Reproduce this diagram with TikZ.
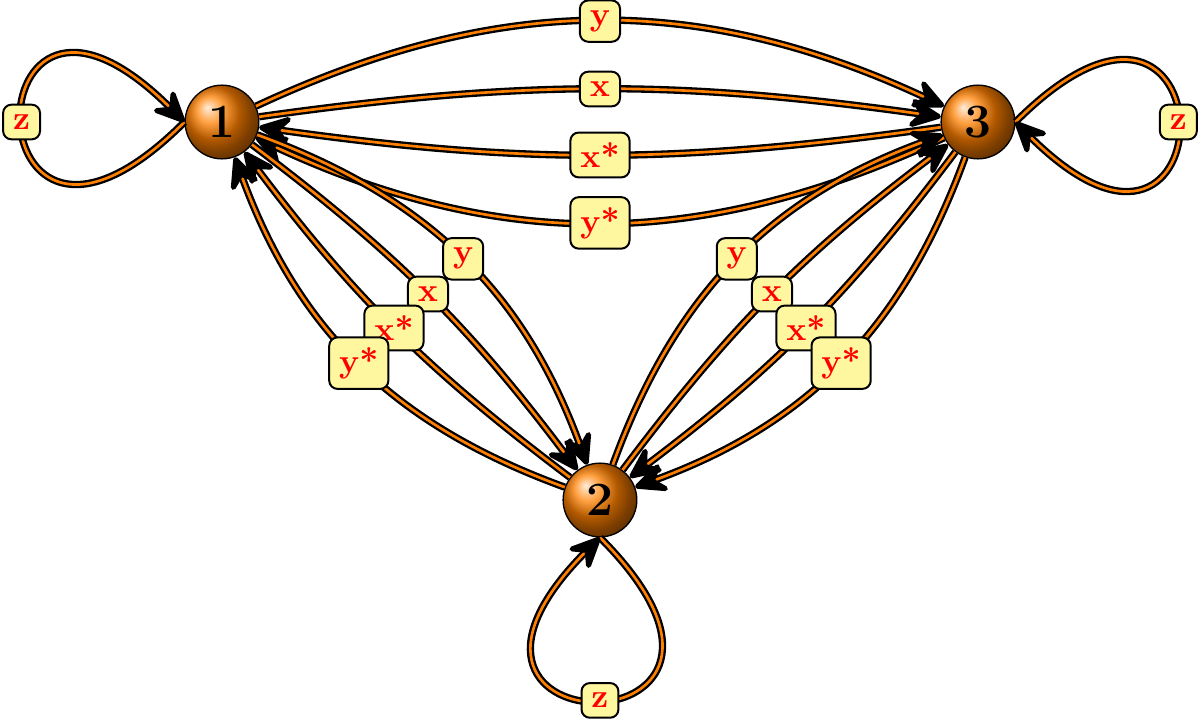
\documentclass[tikz,border=0pt]{standalone}
\usetikzlibrary{arrows.meta}
\definecolor{lblfill}{RGB}{255,246,160}
\begin{document}
\begin{tikzpicture}[
    ball/.style = {circle, draw, shading=ball, ball color=orange, minimum size=7.8mm, inner sep=0pt, font=\Large\bfseries},
    link/.style = {line width=0.7pt, double=orange, double distance=0.8pt, -{Stealth[length=12pt, width=11pt, inset=4.5pt, line width=1.5pt, round, black]}},
    lbl/.style = {draw, semithick, rounded corners=2.5pt, fill=lblfill, text=red, font=\bfseries, inner sep=3pt}]
    \useasboundingbox (-6.349,-2.392) rectangle (6.392,5.291);
    \node [ball] (n1) at (-4,4) {1};
    \node [ball] (n2) at (0,0) {2};
    \node [ball] (n3) at (4,4) {3};
    \foreach \a/\b in {1/3, 1/2, 2/3} {
      \draw [link] (n\a) to [bend left=25] node [lbl] {y} (n\b);
      \draw [link] (n\a) to [bend left=8] node [lbl] {x} (n\b);
      \draw [link] (n\b) to [bend left=8] node [lbl] {x*} (n\a);
      \draw [link] (n\b) to [bend left=25] node [lbl] {y*} (n\a);
    }
    % loops
    \draw [link] (n1.west) .. controls +(225:3.25) and +(135:3.25) .. node [lbl, midway] {z} (n1.west);
    \draw [link] (n2.south) .. controls +(-45:3.25) and +(-135:3.25) .. node [lbl, midway] {z} (n2.south);
    \draw [link] (n3.east) .. controls +(45:3.25) and +(-45:3.25) .. node [lbl, midway] {z} (n3.east);
\end{tikzpicture}
\end{document}
